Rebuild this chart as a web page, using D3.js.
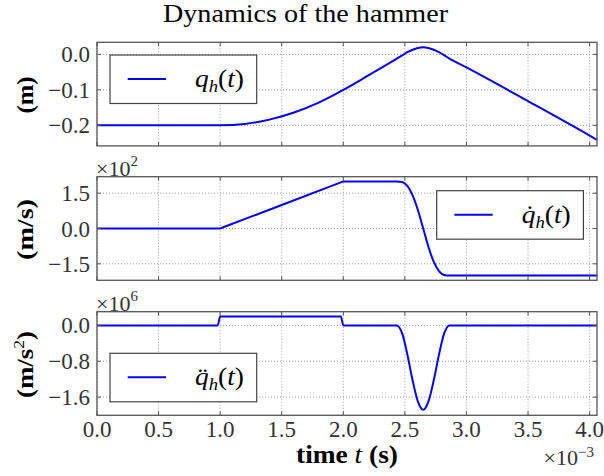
<!DOCTYPE html>
<html>
<head>
<meta charset="utf-8">
<script src="https://cdn.jsdelivr.net/npm/d3@7"></script>
<style>
  body { margin: 0; background: #fff; }
  svg { display: block; }
</style>
</head>
<body>
<div id="chart"></div>
<script>
"use strict";
// time is in ms (the axis shows x10^-3 s)
const posTime = [0, 1.0, 1.2, 1.4, 1.6, 1.8, 2.0, 2.2, 2.435, 2.478, 2.52, 2.563, 2.606, 2.65, 2.69, 2.734, 2.777, 2.82, 2.862, 3.0, 3.5, 4.0, 4.06];
const posValues = [-0.2, -0.2, -0.196, -0.184, -0.164, -0.136, -0.100, -0.060, -0.012, -0.003, 0.006, 0.013, 0.018, 0.020, 0.018, 0.013, 0.006, -0.003, -0.012, -0.037, -0.132, -0.229, -0.241];
// velocity in x10^2 m/s
const velTime = [0, 1.0, 1.02, 1.98, 2.0, 2.435, 2.478, 2.52, 2.563, 2.606, 2.649, 2.691, 2.734, 2.777, 2.819, 2.862, 4.06];
const velValues = [0, 0, 0.04, 1.96, 2.0, 2.0, 1.974, 1.806, 1.406, 0.774, 0, -0.774, -1.406, -1.806, -1.974, -2.0, -2.0];
// acceleration in x10^6 m/s^2
const accTime = [0, 0.98, 1.0, 1.98, 2.0, 2.435, 2.478, 2.52, 2.563, 2.606, 2.649, 2.691, 2.734, 2.777, 2.819, 2.862, 4.06];
const accValues = [0, 0, 0.2, 0.2, 0, 0, -0.18, -0.65, -1.23, -1.70, -1.88, -1.70, -1.23, -0.65, -0.18, 0, 0];

const xTicks = [0, 0.5, 1.0, 1.5, 2.0, 2.5, 3.0, 3.5, 4.0];
const posTicks = [0.0, -0.1, -0.2];
const velTicks = [1.5, 0.0, -1.5];
const accTicks = [0.0, -0.8, -1.6];

const width = 604, height = 476;
const left = 97, right = 597, panelH = 103.6;
const serif = '"Liberation Serif", "Times New Roman", serif';
const fmt = d3.format('.1f');

const svg = d3.select('#chart').append('svg')
    .attr('width', width)
    .attr('height', height)
    .style('font-family', serif);

const x = d3.scaleLinear().domain([0, 4.06]).range([left, right]);

const panels = [
    { time: posTime, values: posValues, ticks: posTicks, domain: [-0.258, 0.034], top: 42.3,
      unit: ['(m)'], unitLen: 37, dots: '', legend: [110, 55], offset: null },
    { time: velTime, values: velValues, ticks: velTicks, domain: [-2.2, 2.2], top: 176.7,
      unit: ['(m/s)'], unitLen: 61, dots: '\u0307', legend: [436.7, 190.7], offset: '2' },
    { time: accTime, values: accValues, ticks: accTicks, domain: [-2.005, 0.305], top: 311.7,
      unit: ['(m/s', '2', ')'], unitLen: 67, dots: '\u0308', legend: [110, 353.3], offset: '6' }
];

// title (centred on the figure)
svg.append('text')
    .attr('x', 305.5)
    .attr('y', 22)
    .attr('text-anchor', 'middle')
    .attr('textLength', 285)
    .attr('lengthAdjust', 'spacingAndGlyphs')
    .style('font-size', '26px')
    .style('fill', '#000')
    .text('Dynamics of the hammer');

panels.forEach((p, i) => {
    const top = p.top, bottom = p.top + panelH;
    const y = d3.scaleLinear().domain(p.domain).range([bottom, top]);
    const g = svg.append('g').attr('class', 'panel' + i);

    // grid
    g.append('g').selectAll('line')
        .data(xTicks)
        .enter().append('line')
        .attr('x1', d => x(d)).attr('x2', d => x(d))
        .attr('y1', top).attr('y2', bottom)
        .style('stroke', '#999')
        .style('stroke-width', '1px')
        .style('stroke-dasharray', '1,2');
    g.append('g').selectAll('line')
        .data(p.ticks)
        .enter().append('line')
        .attr('x1', left).attr('x2', right)
        .attr('y1', d => y(d)).attr('y2', d => y(d))
        .style('stroke', '#999')
        .style('stroke-width', '1px')
        .style('stroke-dasharray', '1,2');

    // data line
    const line = d3.line()
        .x(d => x(d[0]))
        .y(d => y(d[1]))
        .curve(d3.curveMonotoneX);
    g.append('path')
        .datum(p.time.map((t, k) => [t, p.values[k]]))
        .attr('d', line)
        .style('fill', 'none')
        .style('stroke', '#0000ff')
        .style('stroke-width', '2px');

    // inward ticks on all four sides
    const tk = g.append('g').style('stroke', '#555').style('stroke-width', '1px');
    xTicks.forEach(d => {
        tk.append('line').attr('x1', x(d)).attr('x2', x(d)).attr('y1', bottom).attr('y2', bottom - 4);
        tk.append('line').attr('x1', x(d)).attr('x2', x(d)).attr('y1', top).attr('y2', top + 4);
    });
    p.ticks.forEach(d => {
        tk.append('line').attr('x1', left).attr('x2', left + 4).attr('y1', y(d)).attr('y2', y(d));
        tk.append('line').attr('x1', right).attr('x2', right - 4).attr('y1', y(d)).attr('y2', y(d));
    });

    // frame
    g.append('rect')
        .attr('x', left).attr('y', top)
        .attr('width', right - left).attr('height', panelH)
        .style('fill', 'none')
        .style('stroke', '#555')
        .style('stroke-width', '1.3px');

    // y tick labels
    g.append('g').selectAll('text')
        .data(p.ticks)
        .enter().append('text')
        .attr('x', left - 7)
        .attr('y', d => y(d) + 8)
        .attr('text-anchor', 'end')
        .style('font-size', '23px')
        .style('fill', '#333')
        .text(d => fmt(d));

    // y label
    const yl = g.append('text')
        .attr('transform', 'translate(33,' + (top + panelH / 2 + 1) + ') rotate(-90)')
        .attr('text-anchor', 'middle')
        .attr('textLength', p.unitLen)
        .attr('lengthAdjust', 'spacingAndGlyphs')
        .style('font-size', '23px')
        .style('font-weight', 'bold')
        .style('fill', '#000');
    yl.append('tspan').text(p.unit[0]);
    if (p.unit.length > 1) {
        yl.append('tspan').attr('dy', -9).style('font-size', '15px').style('font-weight', 'normal').text(p.unit[1]);
        yl.append('tspan').attr('dy', 9).text(p.unit[2]);
    }

    // offset text above the panel
    if (p.offset) {
        const ot = g.append('text')
            .attr('x', left - 1)
            .attr('y', top - 1)
            .style('font-size', '22px')
            .style('fill', '#333');
        ot.append('tspan').text('\u00d710');
        ot.append('tspan').attr('dy', -10).style('font-size', '15px').text(p.offset);
    }

    // legend
    const lx = p.legend[0], ly = p.legend[1];
    const lg = g.append('g').attr('class', 'legend');
    lg.append('rect')
        .attr('x', lx).attr('y', ly)
        .attr('width', 146.7).attr('height', 48.5)
        .style('fill', '#fff')
        .style('stroke', '#444')
        .style('stroke-width', '1.2px');
    lg.append('line')
        .attr('x1', lx + 17.7).attr('x2', lx + 56)
        .attr('y1', ly + 24).attr('y2', ly + 24)
        .style('stroke', '#0000ff')
        .style('stroke-width', '2px');
    const lt = lg.append('text')
        .attr('x', lx + 85)
        .attr('y', ly + 32)
        .attr('textLength', 49)
        .attr('lengthAdjust', 'spacingAndGlyphs')
        .style('font-size', '25px')
        .style('fill', '#000');
    lt.append('tspan').style('font-style', 'italic').text('q' + p.dots);
    lt.append('tspan').attr('dy', 5).style('font-style', 'italic').style('font-size', '17px').text('h');
    lt.append('tspan').attr('dy', -5).text('(');
    lt.append('tspan').style('font-style', 'italic').text('t');
    lt.append('tspan').text(')');

    // x tick labels only under the last panel
    if (i === panels.length - 1) {
        g.append('g').selectAll('text')
            .data(xTicks)
            .enter().append('text')
            .attr('x', d => x(d))
            .attr('y', bottom + 22)
            .attr('text-anchor', 'middle')
            .style('font-size', '23px')
            .style('fill', '#333')
            .text(d => fmt(d));
    }
});

// x label
const xl = svg.append('text')
    .attr('x', (left + right) / 2)
    .attr('y', 463)
    .attr('text-anchor', 'middle')
    .attr('textLength', 102)
    .attr('lengthAdjust', 'spacingAndGlyphs')
    .style('font-size', '25px')
    .style('fill', '#000');
xl.append('tspan').style('font-weight', 'bold').text('time ');
xl.append('tspan').style('font-style', 'italic').text('t');
xl.append('tspan').style('font-weight', 'bold').text(' (s)');

// x offset text
const xo = svg.append('text')
    .attr('x', 594)
    .attr('y', 465)
    .attr('text-anchor', 'end')
    .style('font-size', '22px')
    .style('fill', '#333');
xo.append('tspan').text('\u00d710');
xo.append('tspan').attr('dy', -8).style('font-size', '15px').text('\u22123');
</script>
</body>
</html>
